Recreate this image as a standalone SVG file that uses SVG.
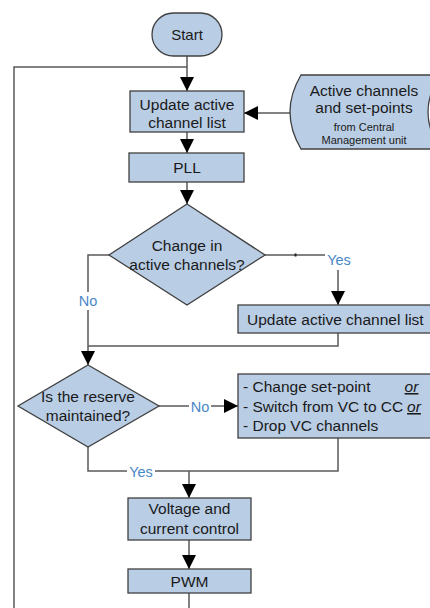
<svg xmlns="http://www.w3.org/2000/svg" width="430" height="608" viewBox="0 0 430 608">
  <style>
    .node { fill: #b9cde5; stroke: #404040; stroke-width: 1.3; }
    .txt { font-family: "Liberation Sans", "Open Sans", sans-serif; font-size: 15.5px; fill: #1a1a1a; text-anchor: middle; }
    .small { font-size: 11px; }
    .lbl { font-family: "Liberation Sans", "Open Sans", sans-serif; font-size: 14.5px; fill: #4a86c8; text-anchor: middle; }
    .wire { fill: none; stroke: #595959; stroke-width: 1.5; }
    .arrow { marker-end: url(#head); }
    .bg { fill: #ffffff; }
  </style>
  <defs>
    <marker id="head" markerUnits="userSpaceOnUse" markerWidth="15" markerHeight="15" refX="14" refY="7" orient="auto">
      <path d="M0,0 L14,7 L0,14 Z" fill="#000000"/>
    </marker>
  </defs>
  <rect width="430" height="608" fill="#ffffff"/>

  <!-- connectors -->
  <g id="connectors">
    <path class="wire arrow" d="M187,56 V91"/>
    <path class="wire" d="M14,608 V67 H187"/>
    <path class="wire arrow" d="M291,113 H244"/>
    <path class="wire arrow" d="M187,132 V153"/>
    <path class="wire arrow" d="M187,182 V204"/>
    <path class="wire" d="M109,255 H88 V346"/>
    <path class="wire arrow" d="M265,255 H338 V305"/>
    <path d="M294.5,253.5 h2 v3 h-2 z" fill="#202020"/>
    <path class="wire" d="M338,333 V346 H88"/>
    <path class="wire arrow" d="M88,346 V365"/>
    <path class="wire arrow" d="M159,406 H238"/>
    <path class="wire" d="M88,447 V471 H338 V438"/>
    <path class="wire arrow" d="M189,471 V498"/>
    <path class="wire arrow" d="M189,540 V569"/>
    <path class="wire" d="M189,593 V608"/>
    <!-- branch labels -->
    <rect class="bg" x="78" y="292" width="20" height="18"/>
    <text class="lbl" x="88" y="306">No</text>
    <rect class="bg" x="325" y="250" width="28" height="20"/>
    <text class="lbl" x="339" y="265">Yes</text>
    <rect class="bg" x="189" y="399" width="22" height="16"/>
    <text class="lbl" x="200" y="411.5">No</text>
    <rect class="bg" x="127" y="463" width="28" height="16"/>
    <text class="lbl" x="141" y="476.5">Yes</text>
  </g>

  <g id="start">
    <rect class="node" x="152" y="13" width="70" height="43" rx="21.5"/>
    <text class="txt" x="187" y="39.5" style="font-size:15px">Start</text>
  </g>

  <g id="update-list">
    <rect class="node" x="130" y="91" width="114" height="41"/>
    <text class="txt" x="187" y="110">Update active</text>
    <text class="txt" x="187" y="128">channel list</text>
  </g>

  <g id="setpoints">
    <path class="node" d="M301,75 H440 Q416,112 440,149 H301 Q279,112 301,75 Z"/>
    <text class="txt" x="364" y="96">Active channels</text>
    <text class="txt" x="364" y="113">and set-points</text>
    <text class="txt small" x="364" y="130.5">from Central</text>
    <text class="txt small" x="364" y="144">Management unit</text>
  </g>

  <g id="pll">
    <rect class="node" x="129" y="153" width="115" height="29"/>
    <text class="txt" x="187" y="173">PLL</text>
  </g>

  <g id="change-decision">
    <path class="node" d="M187,204 L265,255 L187,305 L109,255 Z"/>
    <text class="txt" x="187" y="251">Change in</text>
    <text class="txt" x="187" y="270">active channels?</text>
  </g>

  <g id="update-list-2">
    <rect class="node" x="238" y="305" width="200" height="28"/>
    <text class="txt" x="247" y="324.5" style="text-anchor:start">Update active channel list</text>
  </g>

  <g id="reserve-decision">
    <path class="node" d="M88,365 L159,406 L88,447 L18,406 Z"/>
    <text class="txt" x="88" y="402">Is the reserve</text>
    <text class="txt" x="88" y="421">maintained?</text>
  </g>

  <g id="actions">
    <rect class="node" x="238" y="374" width="200" height="64"/>
    <text class="txt" x="243" y="392" style="text-anchor:start">- Change set-point</text>
    <text class="txt" x="411.5" y="392" style="font-style:italic;text-decoration:underline">or</text>
    <text class="txt" x="243" y="412" style="text-anchor:start">- Switch from VC to CC</text>
    <text class="txt" x="414" y="412" style="font-style:italic;text-decoration:underline">or</text>
    <text class="txt" x="243" y="431" style="text-anchor:start">- Drop VC channels</text>
  </g>

  <g id="control">
    <rect class="node" x="128" y="498" width="123" height="42"/>
    <text class="txt" x="189.5" y="514">Voltage and</text>
    <text class="txt" x="189.5" y="534">current control</text>
  </g>

  <g id="pwm">
    <rect class="node" x="128" y="569" width="123" height="24"/>
    <text class="txt" x="189.5" y="587">PWM</text>
  </g>
</svg>
